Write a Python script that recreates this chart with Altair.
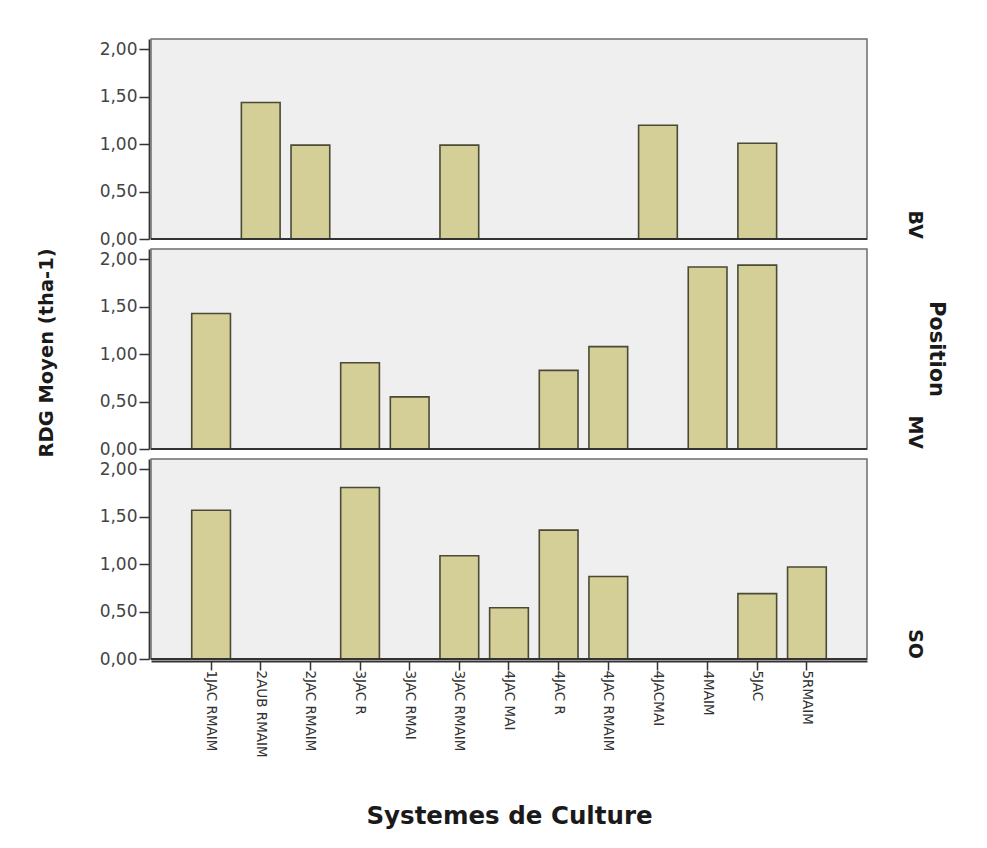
import altair as alt
import pandas as pd

# Cropping systems (x categories) and landscape positions (rows)
systemes = [
    "1JAC RMAIM", "2AUB RMAIM", "2JAC RMAIM", "3JAC R", "3JAC RMAI",
    "3JAC RMAIM", "4JAC MAI", "4JAC R", "4JAC RMAIM", "4JACMAI",
    "4MAIM", "5JAC", "5RMAIM",
]
positions = ["BV", "MV", "SO"]

# Mean yield (t/ha) per system; None = no observation for that position
rdg_bv = [None, 1.44, 0.99, None, None, 0.99, None, None, None, 1.20, None, 1.01, None]
rdg_mv = [1.43, None, None, 0.91, 0.55, None, None, 0.83, 1.08, None, 1.92, 1.94, None]
rdg_so = [1.57, None, None, 1.81, None, 1.09, 0.54, 1.36, 0.87, None, None, 0.69, 0.97]

rows = []
for pos, vals in zip(positions, [rdg_bv, rdg_mv, rdg_so]):
    for s, v in zip(systemes, vals):
        if v is not None:
            rows.append({"Systeme": s, "Position": pos, "RDG": v})
df = pd.DataFrame(rows)

TXT = "DejaVu Sans"
NARROW = "Liberation Sans Narrow, Arial Narrow, DejaVu Sans"

base = alt.Chart()

bars = base.mark_bar(
    fill="#D4CF96", stroke="#4A4A36", strokeWidth=1.6
).encode(
    x=alt.X(
        "Systeme:N",
        sort=systemes,
        scale=alt.Scale(domain=systemes, paddingInner=0.22, paddingOuter=0.82),
        axis=alt.Axis(
            title="Systemes de Culture",
            labelAngle=90, labelAlign="left", labelBaseline="middle",
            labelFont=NARROW, labelFontSize=13.5, labelColor="#333333",
            labelPadding=0, tickSize=9, tickColor="#333333", tickWidth=1.5,
            domainColor="#333333", domainWidth=1.8,
            titleFont=TXT, titleFontSize=24.5, titleFontWeight="bold",
            titleColor="#1a1a1a", titlePadding=47,
        ),
    ),
    y=alt.Y(
        "RDG:Q",
        scale=alt.Scale(domain=[0, 2.11], nice=False, zero=True),
        axis=alt.Axis(
            title=None,
            values=[0, 0.5, 1, 1.5, 2],
            labelExpr="replace(format(datum.value, '.2f'), '.', ',')",
            labelFont=TXT, labelFontSize=17, labelColor="#444444",
            labelPadding=2, tickSize=10, tickColor="#333333", tickWidth=1.5,
            domainColor="#333333", domainWidth=1.8, grid=False,
        ),
    ),
)

# dark baseline at zero in every panel
baseline = base.mark_rule(color="#333333", strokeWidth=1.8).encode(
    y=alt.datum(0)
)

chart = alt.layer(bars, baseline, data=df).properties(
    width=716, height=200
).facet(
    row=alt.Row(
        "Position:N",
        sort=positions,
        header=alt.Header(
            title="Position",
            titleOrient="right", labelOrient="right",
            labelAngle=90, titleAngle=90,
            labelAnchor="end",
            labelFont=TXT, labelFontSize=19, labelFontWeight="bold",
            labelColor="#1a1a1a", labelPadding=36,
            titleFont=TXT, titleFontSize=21, titleFontWeight="bold",
            titleColor="#1a1a1a", titlePadding=-8,
        ),
    ),
    spacing=7,
    # shared y title, centred on the middle panel
    title=alt.TitleParams(
        text="RDG Moyen (tha-1)",
        orient="left", anchor="middle", frame="bounds",
        font=TXT, fontSize=19.5, fontWeight="bold", color="#1a1a1a",
        offset=42, dx=80,
    ),
).configure_view(
    fill="#EFEFEF", stroke="#6E6E6E", strokeWidth=1.5
).properties(
    padding={"left": 36, "top": 38, "right": 10, "bottom": 10},
    background="white",
)

chart.save("out.html", embed_options={"renderer": "svg", "actions": False})
